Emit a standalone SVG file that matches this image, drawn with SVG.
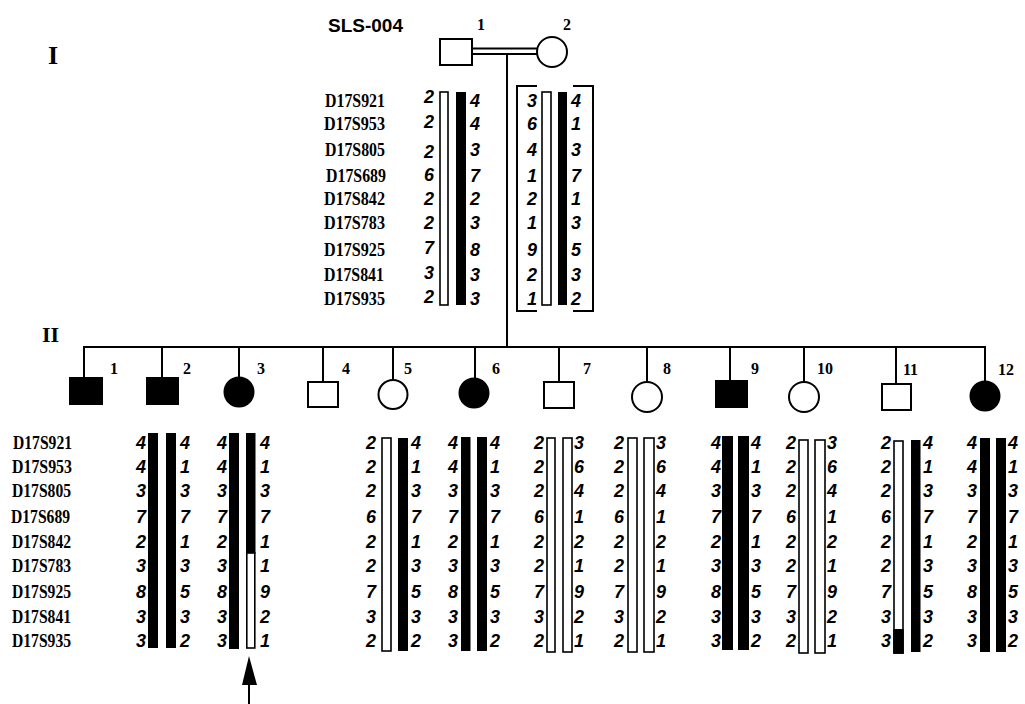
<svg xmlns="http://www.w3.org/2000/svg" width="1025" height="704" viewBox="0 0 1025 704">
<style>
.sym{fill:#fff;stroke:#000;stroke-width:2}
.aff{fill:#000;stroke:#000;stroke-width:2}
.ln{fill:none;stroke:#000;stroke-width:2}
.wb{fill:#fff;stroke:#000;stroke-width:1.6}
.bb{fill:#000}
.lbl{font-family:"Liberation Serif",serif;font-weight:bold;font-size:16px}
.gen{font-family:"Liberation Serif",serif;font-weight:bold}
.mk{font-family:"Liberation Serif",serif;font-weight:bold;font-size:18.5px}
.al{font-family:"Liberation Sans",Arial,sans-serif;font-weight:bold;font-style:italic;font-size:18px}
.ar{text-anchor:end}
.ttl{font-family:"Liberation Sans",Arial,sans-serif;font-weight:bold;font-size:19px}
</style>
<rect width="1025" height="704" fill="#fff"/>
<text class="ttl" x="328" y="32">SLS-004</text>
<text class="gen" x="48" y="64" font-size="26">I</text>
<text class="gen" x="42" y="342" font-size="22">II</text>

<g id="connectors">
  <line class="ln" x1="472" y1="48.5" x2="537" y2="48.5"/>
  <line class="ln" x1="472" y1="54" x2="537" y2="54"/>
  <line class="ln" x1="507" y1="54" x2="507" y2="347"/>
  <line class="ln" x1="83" y1="347" x2="986" y2="347"/>
  <line class="ln" x1="84" y1="347" x2="84" y2="378"/>
  <line class="ln" x1="162" y1="347" x2="162" y2="378"/>
  <line class="ln" x1="239" y1="347" x2="239" y2="378"/>
  <line class="ln" x1="323" y1="347" x2="323" y2="382"/>
  <line class="ln" x1="393" y1="347" x2="393" y2="380"/>
  <line class="ln" x1="475" y1="347" x2="475" y2="378"/>
  <line class="ln" x1="559" y1="347" x2="559" y2="382"/>
  <line class="ln" x1="647" y1="347" x2="647" y2="382"/>
  <line class="ln" x1="730" y1="347" x2="730" y2="381"/>
  <line class="ln" x1="804" y1="347" x2="804" y2="382"/>
  <line class="ln" x1="896" y1="347" x2="896" y2="384"/>
  <line class="ln" x1="985" y1="347" x2="985" y2="381"/>
  <line class="ln" x1="249" y1="682" x2="249" y2="704"/>
  <polygon points="249,656 242,685 257,685" fill="#000"/>
</g>

<g id="markers-I" class="mk">
  <text x="325" y="107" textLength="60" lengthAdjust="spacingAndGlyphs">D17S921</text>
  <text x="324" y="130" textLength="61" lengthAdjust="spacingAndGlyphs">D17S953</text>
  <text x="325" y="156" textLength="60" lengthAdjust="spacingAndGlyphs">D17S805</text>
  <text x="326" y="182" textLength="60" lengthAdjust="spacingAndGlyphs">D17S689</text>
  <text x="324" y="205" textLength="61" lengthAdjust="spacingAndGlyphs">D17S842</text>
  <text x="324" y="229" textLength="61" lengthAdjust="spacingAndGlyphs">D17S783</text>
  <text x="324" y="256" textLength="61" lengthAdjust="spacingAndGlyphs">D17S925</text>
  <text x="324" y="281" textLength="60" lengthAdjust="spacingAndGlyphs">D17S841</text>
  <text x="324" y="305" textLength="61" lengthAdjust="spacingAndGlyphs">D17S935</text>
</g>

<g id="markers-II" class="mk">
  <text x="13" y="449" textLength="59" lengthAdjust="spacingAndGlyphs">D17S921</text>
  <text x="12" y="473" textLength="60" lengthAdjust="spacingAndGlyphs">D17S953</text>
  <text x="12" y="497" textLength="59" lengthAdjust="spacingAndGlyphs">D17S805</text>
  <text x="11" y="523" textLength="59" lengthAdjust="spacingAndGlyphs">D17S689</text>
  <text x="12" y="548" textLength="59" lengthAdjust="spacingAndGlyphs">D17S842</text>
  <text x="12" y="572" textLength="59" lengthAdjust="spacingAndGlyphs">D17S783</text>
  <text x="12" y="598" textLength="59" lengthAdjust="spacingAndGlyphs">D17S925</text>
  <text x="12" y="623" textLength="59" lengthAdjust="spacingAndGlyphs">D17S841</text>
  <text x="12" y="647" textLength="59" lengthAdjust="spacingAndGlyphs">D17S935</text>
</g>

<g id="I-1">
  <rect class="sym" x="440" y="39" width="32" height="26"/>
  <text class="lbl" x="477" y="30">1</text>
  <rect class="wb" x="440" y="92" width="8" height="213"/>
  <rect class="bb" x="456" y="92" width="10" height="213"/>
  <g class="al ar">
    <text x="434" y="103">2</text><text x="434" y="128">2</text><text x="434" y="158">2</text><text x="434" y="181">6</text><text x="434" y="205">2</text><text x="434" y="229">2</text><text x="434" y="254">7</text><text x="434" y="279">3</text><text x="434" y="303">2</text>
  </g>
  <g class="al">
    <text x="470" y="107">4</text><text x="470" y="130">4</text><text x="470" y="156">3</text><text x="470" y="182">7</text><text x="470" y="205">2</text><text x="470" y="229">3</text><text x="470" y="256">8</text><text x="470" y="281">3</text><text x="470" y="305">3</text>
  </g>
</g>

<g id="I-2">
  <circle class="sym" cx="552" cy="52" r="15"/>
  <text class="lbl" x="563" y="30">2</text>
  <path class="ln" d="M537,86 H517 V311 H537" stroke-width="1.6"/>
  <path class="ln" d="M573,86 H593 V311 H573" stroke-width="1.6"/>
  <rect class="wb" x="542" y="92" width="9" height="213"/>
  <rect class="bb" x="558" y="92" width="9" height="213"/>
  <g class="al ar">
    <text x="537" y="107">3</text><text x="537" y="130">6</text><text x="537" y="156">4</text><text x="537" y="182">1</text><text x="537" y="205">2</text><text x="537" y="229">1</text><text x="537" y="256">9</text><text x="537" y="281">2</text><text x="537" y="305">1</text>
  </g>
  <g class="al">
    <text x="571" y="107">4</text><text x="571" y="130">1</text><text x="571" y="156">3</text><text x="571" y="182">7</text><text x="571" y="205">1</text><text x="571" y="229">3</text><text x="571" y="256">5</text><text x="571" y="281">3</text><text x="571" y="305">2</text>
  </g>
</g>

<g id="II-1">
  <rect class="aff" x="70" y="378" width="32" height="26"/>
  <text class="lbl" x="110" y="374">1</text>
</g>

<g id="II-2">
  <rect class="aff" x="147" y="378" width="31" height="26"/>
  <text class="lbl" x="183" y="374">2</text>
  <rect class="bb" x="148" y="433" width="10" height="215"/>
  <rect class="bb" x="166" y="433" width="10" height="215"/>
  <g class="al ar">
    <text x="146" y="449">4</text><text x="146" y="473">4</text><text x="146" y="497">3</text><text x="146" y="523">7</text><text x="146" y="548">2</text><text x="146" y="572">3</text><text x="146" y="598">8</text><text x="146" y="623">3</text><text x="146" y="647">3</text>
  </g>
  <g class="al">
    <text x="180" y="449">4</text><text x="180" y="473">1</text><text x="180" y="497">3</text><text x="180" y="523">7</text><text x="180" y="548">1</text><text x="180" y="572">3</text><text x="180" y="598">5</text><text x="180" y="623">3</text><text x="180" y="647">2</text>
  </g>
</g>

<g id="II-3">
  <circle class="aff" cx="239" cy="392" r="14.5"/>
  <text class="lbl" x="257" y="374">3</text>
  <rect class="bb" x="229" y="433" width="10" height="216"/>
  <rect class="bb" x="246" y="433" width="9.5" height="121"/>
  <rect class="wb" x="246.8" y="553" width="8" height="95"/>
  <g class="al ar">
    <text x="227" y="449">4</text><text x="227" y="473">4</text><text x="227" y="497">3</text><text x="227" y="523">7</text><text x="227" y="548">2</text><text x="227" y="572">3</text><text x="227" y="598">8</text><text x="227" y="623">3</text><text x="227" y="647">3</text>
  </g>
  <g class="al">
    <text x="260" y="449">4</text><text x="260" y="473">1</text><text x="260" y="497">3</text><text x="260" y="523">7</text><text x="260" y="548">1</text><text x="260" y="572">1</text><text x="260" y="598">9</text><text x="260" y="623">2</text><text x="260" y="647">1</text>
  </g>
</g>

<g id="II-4">
  <rect class="sym" x="308" y="382" width="30" height="25"/>
  <text class="lbl" x="342" y="374">4</text>
</g>

<g id="II-5">
  <circle class="sym" cx="393" cy="394.5" r="14.5"/>
  <text class="lbl" x="404" y="374">5</text>
  <rect class="wb" x="382" y="438" width="9" height="213"/>
  <rect class="bb" x="398" y="438" width="10" height="213"/>
  <g class="al ar">
    <text x="376" y="449">2</text><text x="376" y="473">2</text><text x="376" y="497">2</text><text x="376" y="523">6</text><text x="376" y="548">2</text><text x="376" y="572">2</text><text x="376" y="598">7</text><text x="376" y="623">3</text><text x="376" y="647">2</text>
  </g>
  <g class="al">
    <text x="411" y="449">4</text><text x="411" y="473">1</text><text x="411" y="497">3</text><text x="411" y="523">7</text><text x="411" y="548">1</text><text x="411" y="572">3</text><text x="411" y="598">5</text><text x="411" y="623">3</text><text x="411" y="647">2</text>
  </g>
</g>

<g id="II-6">
  <circle class="aff" cx="474" cy="393" r="14.5"/>
  <text class="lbl" x="492" y="374">6</text>
  <rect class="bb" x="461" y="437" width="9.5" height="214"/>
  <rect class="bb" x="477" y="437" width="10" height="214"/>
  <g class="al ar">
    <text x="458" y="449">4</text><text x="458" y="473">4</text><text x="458" y="497">3</text><text x="458" y="523">7</text><text x="458" y="548">2</text><text x="458" y="572">3</text><text x="458" y="598">8</text><text x="458" y="623">3</text><text x="458" y="647">3</text>
  </g>
  <g class="al">
    <text x="490" y="449">4</text><text x="490" y="473">1</text><text x="490" y="497">3</text><text x="490" y="523">7</text><text x="490" y="548">1</text><text x="490" y="572">3</text><text x="490" y="598">5</text><text x="490" y="623">3</text><text x="490" y="647">2</text>
  </g>
</g>

<g id="II-7">
  <rect class="sym" x="544" y="382" width="30" height="26"/>
  <text class="lbl" x="583" y="374">7</text>
  <rect class="wb" x="547" y="438" width="8" height="214"/>
  <rect class="wb" x="563" y="438" width="9" height="214"/>
  <g class="al ar">
    <text x="544" y="449">2</text><text x="544" y="473">2</text><text x="544" y="497">2</text><text x="544" y="523">6</text><text x="544" y="548">2</text><text x="544" y="572">2</text><text x="544" y="598">7</text><text x="544" y="623">3</text><text x="544" y="647">2</text>
  </g>
  <g class="al">
    <text x="574" y="449">3</text><text x="574" y="473">6</text><text x="574" y="497">4</text><text x="574" y="523">1</text><text x="574" y="548">2</text><text x="574" y="572">1</text><text x="574" y="598">9</text><text x="574" y="623">2</text><text x="574" y="647">1</text>
  </g>
</g>

<g id="II-8">
  <circle class="sym" cx="647" cy="397" r="15"/>
  <text class="lbl" x="663" y="374">8</text>
  <rect class="wb" x="628" y="438" width="9" height="214"/>
  <rect class="wb" x="644" y="438" width="10" height="214"/>
  <g class="al ar">
    <text x="624" y="449">2</text><text x="624" y="473">2</text><text x="624" y="497">2</text><text x="624" y="523">6</text><text x="624" y="548">2</text><text x="624" y="572">2</text><text x="624" y="598">7</text><text x="624" y="623">3</text><text x="624" y="647">2</text>
  </g>
  <g class="al">
    <text x="656" y="449">3</text><text x="656" y="473">6</text><text x="656" y="497">4</text><text x="656" y="523">1</text><text x="656" y="548">2</text><text x="656" y="572">1</text><text x="656" y="598">9</text><text x="656" y="623">2</text><text x="656" y="647">1</text>
  </g>
</g>

<g id="II-9">
  <rect class="aff" x="716" y="381" width="31" height="26"/>
  <text class="lbl" x="751" y="374">9</text>
  <rect class="bb" x="722" y="436" width="11" height="214"/>
  <rect class="bb" x="738" y="436" width="11" height="214"/>
  <g class="al ar">
    <text x="721" y="449">4</text><text x="721" y="473">4</text><text x="721" y="497">3</text><text x="721" y="523">7</text><text x="721" y="548">2</text><text x="721" y="572">3</text><text x="721" y="598">8</text><text x="721" y="623">3</text><text x="721" y="647">3</text>
  </g>
  <g class="al">
    <text x="751" y="449">4</text><text x="751" y="473">1</text><text x="751" y="497">3</text><text x="751" y="523">7</text><text x="751" y="548">1</text><text x="751" y="572">3</text><text x="751" y="598">5</text><text x="751" y="623">3</text><text x="751" y="647">2</text>
  </g>
</g>

<g id="II-10">
  <circle class="sym" cx="804" cy="397" r="15"/>
  <text class="lbl" x="817" y="374">10</text>
  <rect class="wb" x="799" y="440" width="9" height="213"/>
  <rect class="wb" x="815" y="440" width="10" height="213"/>
  <g class="al ar">
    <text x="796" y="449">2</text><text x="796" y="473">2</text><text x="796" y="497">2</text><text x="796" y="523">6</text><text x="796" y="548">2</text><text x="796" y="572">2</text><text x="796" y="598">7</text><text x="796" y="623">3</text><text x="796" y="647">2</text>
  </g>
  <g class="al">
    <text x="827" y="449">3</text><text x="827" y="473">6</text><text x="827" y="497">4</text><text x="827" y="523">1</text><text x="827" y="548">2</text><text x="827" y="572">1</text><text x="827" y="598">9</text><text x="827" y="623">2</text><text x="827" y="647">1</text>
  </g>
</g>

<g id="II-11">
  <rect class="sym" x="882" y="384" width="29" height="26"/>
  <text class="lbl" x="903" y="375">11</text>
  <rect class="wb" x="894" y="441" width="9" height="212"/>
  <rect class="bb" x="893.2" y="629" width="10.6" height="24.8"/>
  <rect class="bb" x="911" y="440" width="9.5" height="212"/>
  <g class="al ar">
    <text x="891" y="449">2</text><text x="891" y="473">2</text><text x="891" y="497">2</text><text x="891" y="523">6</text><text x="891" y="548">2</text><text x="891" y="572">2</text><text x="891" y="598">7</text><text x="891" y="623">3</text><text x="891" y="647">3</text>
  </g>
  <g class="al">
    <text x="923" y="449">4</text><text x="923" y="473">1</text><text x="923" y="497">3</text><text x="923" y="523">7</text><text x="923" y="548">1</text><text x="923" y="572">3</text><text x="923" y="598">5</text><text x="923" y="623">3</text><text x="923" y="647">2</text>
  </g>
</g>

<g id="II-12">
  <circle class="aff" cx="985" cy="396" r="14.5"/>
  <text class="lbl" x="998" y="375">12</text>
  <rect class="bb" x="980" y="438" width="10" height="214"/>
  <rect class="bb" x="996" y="438" width="10" height="214"/>
  <g class="al ar">
    <text x="977" y="449">4</text><text x="977" y="473">4</text><text x="977" y="497">3</text><text x="977" y="523">7</text><text x="977" y="548">2</text><text x="977" y="572">3</text><text x="977" y="598">8</text><text x="977" y="623">3</text><text x="977" y="647">3</text>
  </g>
  <g class="al">
    <text x="1008" y="449">4</text><text x="1008" y="473">1</text><text x="1008" y="497">3</text><text x="1008" y="523">7</text><text x="1008" y="548">1</text><text x="1008" y="572">3</text><text x="1008" y="598">5</text><text x="1008" y="623">3</text><text x="1008" y="647">2</text>
  </g>
</g>
</svg>
